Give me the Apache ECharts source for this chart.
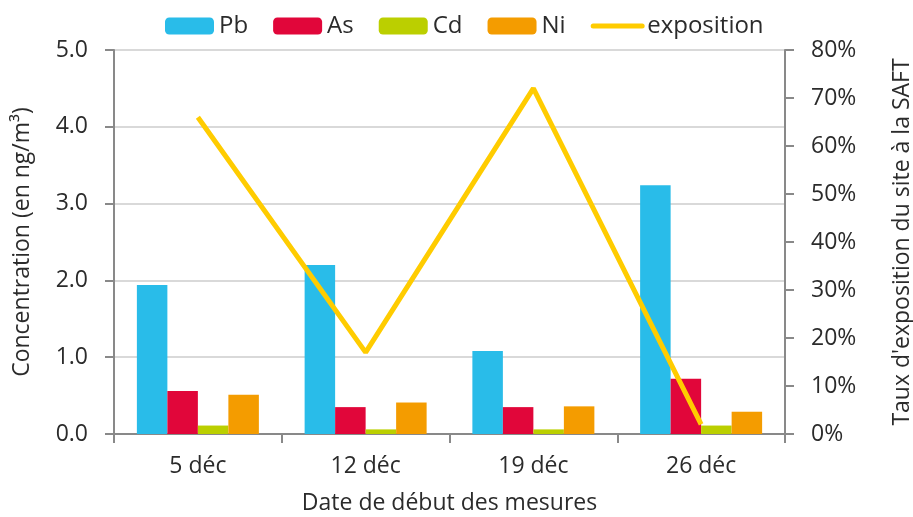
<!DOCTYPE html>
<html><head><meta charset="utf-8">
<script src="https://cdn.jsdelivr.net/npm/echarts@6/dist/echarts.min.js"></script>
<style>html,body{margin:0;padding:0;background:#fff}#c{width:913px;height:517px}</style>
</head><body><div id="c"></div>
<script>
const categories = ['5 déc', '12 déc', '19 déc', '26 déc'];
const pb = [1.94, 2.20, 1.08, 3.24];
const as = [0.56, 0.35, 0.35, 0.72];
const cd = [0.11, 0.06, 0.06, 0.11];
const ni = [0.51, 0.41, 0.36, 0.29];
const exposition = [0.66, 0.17, 0.72, 0.02];

const font = 'Open Sans';
const txt = '#2b2b2b';
const fs = 23;
const chart = echarts.init(document.getElementById('c'));
const barS = (name, data, color) => ({
  name, type: 'bar', data, barWidth: 30.5, barGap: '0%',
  itemStyle: { color }
});
chart.setOption({
  animation: false,
  textStyle: { fontFamily: font },
  legend: {
    left: 160, top: 9, itemWidth: 49, itemHeight: 17, itemGap: 25,
    textStyle: { fontSize: 24, color: txt, fontFamily: font },
    data: ['Pb', 'As', 'Cd', 'Ni',
      { name: 'exposition', itemStyle: { color: 'rgba(0,0,0,0)', borderWidth: 0, opacity: 0 },
        lineStyle: { width: 5, cap: 'round', color: '#FFCC00' } }]
  },
  grid: { left: 114, right: 128, top: 50, bottom: 83, outerBoundsMode: 'none', containLabel: false },
  xAxis: {
    type: 'category', data: categories,
    axisLine: { lineStyle: { color: '#898989', width: 2 } },
    axisTick: { show: true, length: 9, lineStyle: { color: '#898989', width: 2 } },
    axisLabel: { fontSize: fs, color: txt, margin: 21 },
    name: 'Date de début des mesures', nameLocation: 'middle', nameGap: 58,
    nameTextStyle: { fontSize: fs, color: txt }
  },
  yAxis: [{
    type: 'value', min: 0, max: 5, interval: 1,
    axisLine: { show: true, lineStyle: { color: '#898989', width: 2 } },
    axisTick: { show: true, length: 9, lineStyle: { color: '#898989', width: 2 } },
    axisLabel: { fontSize: fs, color: txt, formatter: v => v.toFixed(1), margin: 26 },
    splitLine: { lineStyle: { color: '#d9d9d9', width: 2 } },
    name: 'Concentration (en ng/m³)', nameLocation: 'middle', nameGap: 80, nameRotate: 90,
    nameTextStyle: { fontSize: fs, color: txt }
  }, {
    type: 'value', min: 0, max: 0.8, interval: 0.1,
    axisLine: { show: true, lineStyle: { color: '#898989', width: 2 } },
    axisTick: { show: true, length: 9, lineStyle: { color: '#898989', width: 2 } },
    axisLabel: { fontSize: fs, color: txt, formatter: v => Math.round(v * 100) + '%', margin: 26 },
    splitLine: { show: false },
    name: "Taux d'exposition du site à la SAFT", nameLocation: 'middle', nameGap: 106, nameRotate: 90,
    nameTextStyle: { fontSize: fs, color: txt }
  }],
  series: [
    barS('Pb', pb, '#29BCE9'),
    barS('As', as, '#E1063A'),
    barS('Cd', cd, '#BBCF00'),
    barS('Ni', ni, '#F49C00'),
    { name: 'exposition', type: 'line', yAxisIndex: 1, data: exposition, symbol: 'none',
      lineStyle: { color: '#FFCC00', width: 5 }, itemStyle: { color: '#FFCC00' } }
  ]
});
</script></body></html>
